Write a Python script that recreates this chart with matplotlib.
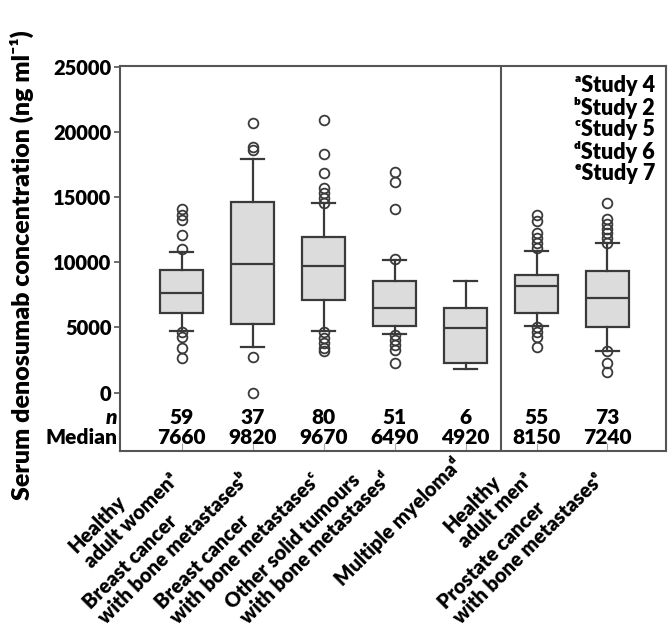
import matplotlib
matplotlib.use('Agg')
import matplotlib.pyplot as plt

plt.rcParams['font.family'] = ['Lato', 'DejaVu Sans']
plt.rcParams['font.weight'] = 'heavy'

# groups (label text, study superscript)
labels = ['Healthy\nadult women\u1d43',
          'Breast cancer\nwith bone metastases\u1d47',
          'Breast cancer\nwith bone metastases\u1d9c',
          'Other solid tumours\nwith bone metastases\u1d48',
          'Multiple myeloma\u1d48',
          'Healthy\nadult men\u1d43',
          'Prostate cancer\nwith bone metastases\u1d49']
n_values = [59, 37, 80, 51, 6, 55, 73]
medians = [7660, 9820, 9670, 6490, 4920, 8150, 7240]
q1 = [6120, 5250, 7090, 5090, 2230, 6120, 4990]
q3 = [9400, 14600, 11950, 8570, 6450, 9010, 9350]
whis_lo = [4700, 3520, 4710, 4500, 1770, 5090, 3200]
whis_hi = [10750, 17900, 14560, 10150, 8570, 10850, 11470]
fliers = [
    [14100, 13600, 13200, 12120, 11000, 4620, 4280, 3450, 2650],
    [20680, 18860, 18620, 2760, 0],
    [20910, 18260, 16800, 15670, 15290, 14900, 14560, 4620, 4220, 3820, 3450, 3150],
    [16950, 16180, 14050, 10250, 4420, 4020, 3640, 3250, 2230],
    [],
    [13650, 13120, 12220, 11830, 11440, 11060, 5040, 4650, 4270, 3500],
    [14570, 13290, 12930, 12570, 12210, 11830, 11440, 3150, 2270, 1580],
]
legend_lines = ['\u1d43Study 4', '\u1d47Study 2', '\u1d9cStudy 5', '\u1d48Study 6', '\u1d49Study 7']

stats = []
for i in range(len(labels)):
    stats.append({'med': medians[i], 'q1': q1[i], 'q3': q3[i],
                  'whislo': whis_lo[i], 'whishi': whis_hi[i], 'fliers': fliers[i]})

fig = plt.figure(figsize=(6.68, 6.4), dpi=100)
ax = fig.add_axes([0.1796, 0.296, 0.818, 0.601])

edge = '#3a3a3a'
positions = list(range(1, len(labels) + 1))
ax.bxp(stats, positions=positions, widths=0.6, patch_artist=True,
       boxprops=dict(facecolor='#dcdcdc', edgecolor=edge, linewidth=1.6),
       medianprops=dict(color=edge, linewidth=1.6),
       whiskerprops=dict(color=edge, linewidth=1.6),
       capprops=dict(color=edge, linewidth=1.6),
       capwidths=0.32,
       flierprops=dict(marker='o', markerfacecolor='none', markeredgecolor=edge,
                       markersize=7, markeredgewidth=1.3))

ax.set_xlim(0.13, 7.83)
ax.set_ylim(-4450, 25050)
ax.set_yticks([0, 5000, 10000, 15000, 20000, 25000])
ax.set_yticklabels(['0', '5000', '10000', '15000', '20000', '25000'], fontsize=14.5)
ax.tick_params(axis='y', direction='out', length=4, width=1.2, color='#555', pad=2)
ax.set_xticks(positions)
ax.set_xticklabels(labels, rotation=45, ha='right', multialignment='left',
                   fontsize=14.5, linespacing=1.15)
ax.tick_params(axis='x', direction='in', length=6, width=0.8, color='#aaaaaa', pad=3)
for s in ax.spines.values():
    s.set_color('#555555')
    s.set_linewidth(1.5)

ax.axvline(5.5, color='#555555', linewidth=1.5)

# n and median rows
for p, n, m in zip(positions, n_values, medians):
    ax.text(p, -1900, str(n), ha='center', va='center', fontsize=15)
    ax.text(p, -3450, str(m), ha='center', va='center', fontsize=15)
fig.text(0.176, 1 - 417 / 640, 'n', ha='right', va='center', fontsize=15,
         fontstyle='italic')
fig.text(0.176, 1 - 437 / 640, 'Median', ha='right', va='center', fontsize=15)

for k, line in enumerate(legend_lines):
    fig.text(655 / 668, 1 - (86 + 22 * k) / 640, line, ha='right', va='center',
             fontsize=15.5)

fig.text(0.033, 0.585, 'Serum denosumab concentration (ng ml\u207b\u00b9)', rotation=90,
         ha='center', va='center', fontsize=18)

fig.savefig('out.png', dpi=100)
